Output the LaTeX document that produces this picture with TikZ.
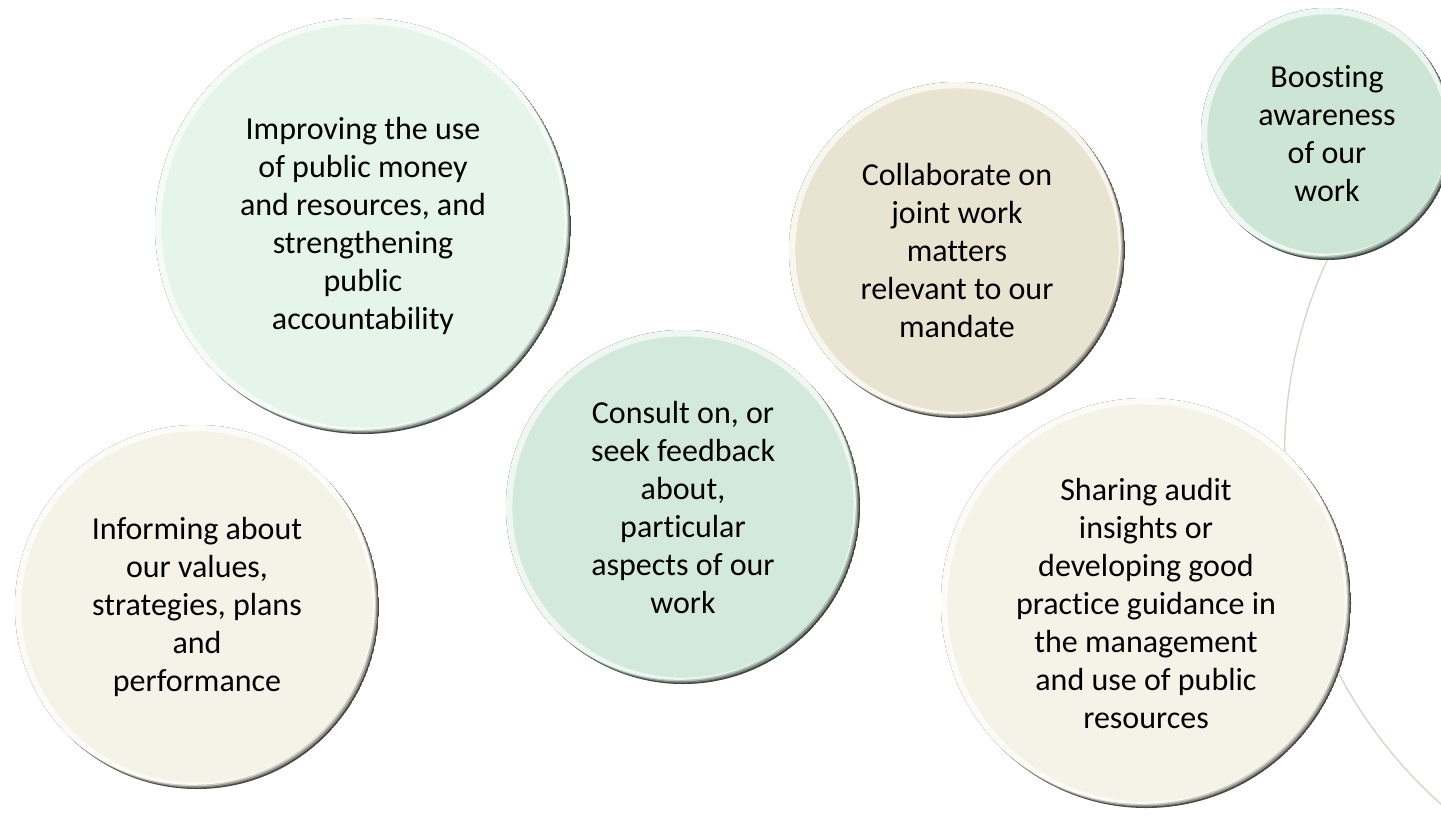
\documentclass[tikz,border=0pt]{standalone}
\usepackage{fontspec}
\setmainfont{Carlito}[Ligatures=CommonOff]
\usetikzlibrary{positioning,backgrounds}

\definecolor{mintpale}{HTML}{E5F5EA}
\definecolor{creampale}{HTML}{F5F3E7}
\definecolor{sage}{HTML}{D3E9DB}
\definecolor{sand}{HTML}{E9E4D1}
\definecolor{sagedeep}{HTML}{CDE5D5}
\definecolor{linkgrey}{HTML}{D8D6CA}

\tikzset{
  bubble/.style 2 args={circle, inner sep=0pt, minimum size=2*#2, fill=#1,
    align=center, font=\fontsize{16}{19}\selectfont,
    path picture={
      \fill[#1!30!black] (path picture bounding box.center) circle[radius=#2];
      \fill[#1!60!black] ([shift={(-0.7pt,0.7pt)}]path picture bounding box.center) circle[radius=#2];
      \fill[#1!85!black] ([shift={(-1.4pt,1.4pt)}]path picture bounding box.center) circle[radius=#2];
      \fill[#1!35!white] ([shift={(-2.1pt,2.1pt)}]path picture bounding box.center) circle[radius=#2];
      \fill[#1] (path picture bounding box.center) circle[radius=#2-3.2pt];
    }},
  link/.style={draw=linkgrey, line width=0.7pt}
}

\begin{document}
\begin{tikzpicture}[on grid]
    \useasboundingbox (0,0) rectangle (720.5pt,-410pt);

    \node[bubble={mintpale}{104pt}] (improve) at (181.5pt,-113pt)
        {Improving the use\\of public money\\and resources, and\\strengthening\\public\\accountability};
    \node[bubble={creampale}{91pt}] (inform) [below left=190.5pt and 83pt of improve]
        {Informing about\\our values,\\strategies, plans\\and\\performance};
    \node[bubble={sage}{88.5pt}] (consult) [below right=140.5pt and 160pt of improve]
        {Consult on, or\\seek feedback\\about,\\particular\\aspects of our\\work};
    \node[bubble={sand}{84pt}] (collab) [above right=128.5pt and 137pt of consult]
        {Collaborate on\\joint work\\matters\\relevant to our\\mandate};
    \node[bubble={sagedeep}{63pt}] (boost) [above right=58pt and 185pt of collab]
        {Boosting\\awareness\\of our\\work};
    \node[bubble={creampale}{102.5pt}] (share) [below right=176.5pt and 94.5pt of collab]
        {Sharing audit\\insights or\\developing good\\practice guidance in\\the management\\and use of public\\resources};

    % thin line behind the bubbles
    \begin{pgfonlayer}{background}
        \draw[link] (boost.south) arc[start angle=155.4, end angle=228.4, radius=233.8pt];
    \end{pgfonlayer}
\end{tikzpicture}
\end{document}
